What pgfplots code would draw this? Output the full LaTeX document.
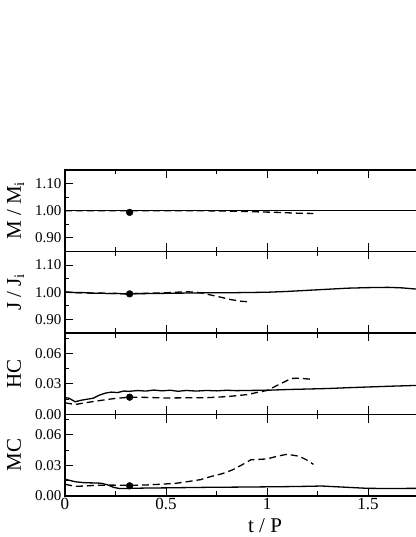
\documentclass[border=0pt]{standalone}
\usepackage{fontspec}
\setmainfont{Liberation Serif}
\usepackage{pgfplots}
\pgfplotsset{compat=1.18}
\pgfplotsset{
  panel/.style={
    scale only axis, width=353.5pt, height=81.5pt,
    xmin=0, xmax=1.75,
    axis line style={line width=1.6pt},
    every tick/.style={black, line width=0.9pt},
    major tick length=8pt, minor tick length=4.5pt,
    tick align=inside,
    xtick={0,0.5,1,1.5}, minor xtick={0.25,0.75,1.25,1.75},
    xticklabels={},
    ytick pos=left,
    /pgf/number format/assume math mode=true,
    yticklabel style={font=\fontsize{15}{15}\selectfont, /pgf/number format/.cd, fixed, fixed zerofill, precision=2},
    scaled y ticks=false,
    every axis y label/.style={at={(axis description cs:-0.1245,0.5)}, rotate=90, anchor=base, font=\fontsize{21}{25}\selectfont},
    solidl/.style={black, line width=1.3pt, no markers},
    dashl/.style={black, line width=1.3pt, no markers, dash pattern=on 7pt off 4pt},
    dotm/.style={only marks, mark=*, mark size=3.4pt, black},
  },
  mj/.style={ymin=0.85, ymax=1.15, ytick={0.9,1.0,1.1}, minor ytick={0.85,0.95,1.05,1.15}},
  hm/.style={ymin=0, ymax=0.08, ytick={0,0.03,0.06}, minor ytick={0.015,0.045,0.075}},
}
\begin{document}
\begin{tikzpicture}
% Panel 1: M / M_i
\begin{axis}[panel, mj, at={(0,244.5pt)}, ylabel={M / M\textsubscript{i}}]
\addplot[solidl] coordinates {(0,1.0) (1.75,1.0)};
\addplot[dashl] coordinates {(0,1.0) (0.3,1.0) (0.6,1.0) (0.75,0.9995) (0.85,0.998) (0.95,0.996) (1.05,0.994) (1.15,0.991) (1.23,0.990)};
\addplot[dotm] coordinates {(0.32,0.994)};
\end{axis}
% Panel 2: J / J_i
\begin{axis}[panel, mj, at={(0,163pt)}, ylabel={J / J\textsubscript{i}}]
\addplot[solidl] coordinates {(0,1.001) (0.03,1.0) (0.06,0.998) (0.09,0.999) (0.12,0.997) (0.15,0.996) (0.18,0.997) (0.21,0.995) (0.25,0.996) (0.3,0.994) (0.35,0.995) (0.4,0.995) (0.5,0.996) (0.6,0.997) (0.7,0.998) (0.8,0.998) (0.9,0.999) (1.0,1.0) (1.1,1.003) (1.2,1.007) (1.3,1.011) (1.4,1.015) (1.5,1.017) (1.6,1.018) (1.67,1.016) (1.75,1.011)};
\addplot[dashl] coordinates {(0,1.0) (0.1,0.998) (0.2,0.996) (0.3,0.994) (0.4,0.996) (0.5,0.998) (0.55,1.0) (0.6,1.002) (0.65,1.0) (0.68,0.997) (0.72,0.99) (0.77,0.982) (0.82,0.973) (0.87,0.967) (0.92,0.964)};
\addplot[dotm] coordinates {(0.32,0.994)};
\end{axis}
% Panel 3: HC
\begin{axis}[panel, hm, at={(0,81.5pt)}, ylabel={HC}]
\addplot[solidl] coordinates {(0,0.0165) (0.02,0.016) (0.05,0.0125) (0.08,0.014) (0.11,0.015) (0.14,0.016) (0.17,0.019) (0.2,0.021) (0.23,0.022) (0.26,0.0215) (0.29,0.023) (0.32,0.0228) (0.36,0.0235) (0.4,0.023) (0.44,0.024) (0.48,0.0232) (0.52,0.0238) (0.56,0.0228) (0.6,0.0236) (0.65,0.023) (0.7,0.0236) (0.75,0.0232) (0.8,0.0238) (0.85,0.0234) (0.9,0.0236) (1.0,0.0238) (1.1,0.0245) (1.2,0.025) (1.3,0.0255) (1.4,0.0263) (1.5,0.027) (1.6,0.0277) (1.75,0.0286)};
\addplot[dashl] coordinates {(0,0.0115) (0.05,0.0098) (0.1,0.0115) (0.15,0.013) (0.2,0.0145) (0.25,0.0158) (0.32,0.017) (0.4,0.0168) (0.5,0.0162) (0.6,0.0164) (0.7,0.0165) (0.8,0.0175) (0.9,0.0195) (1.0,0.0236) (1.06,0.0295) (1.12,0.0354) (1.16,0.0356) (1.23,0.0344)};
\addplot[dotm] coordinates {(0.32,0.017)};
\end{axis}
% Panel 4: MC
\begin{axis}[panel, hm, at={(0,0pt)}, ylabel={MC},
  xticklabels={0,0.5,1,1.5},
  xticklabel style={font=\fontsize{17}{17}\selectfont, anchor=north, inner sep=0pt, yshift=-2pt},
  xlabel={t / P},
  every axis x label/.style={at={(axis description cs:0.566,-0.454)}, anchor=base, font=\fontsize{21}{25}\selectfont}]
\addplot[solidl] coordinates {(0,0.0165) (0.05,0.014) (0.1,0.013) (0.15,0.0128) (0.18,0.0125) (0.21,0.011) (0.24,0.0085) (0.27,0.0073) (0.32,0.0075) (0.4,0.0078) (0.5,0.008) (0.7,0.0085) (0.9,0.0088) (1.0,0.009) (1.1,0.0092) (1.2,0.0095) (1.27,0.0098) (1.35,0.009) (1.45,0.008) (1.5,0.0075) (1.6,0.0074) (1.75,0.0075)};
\addplot[dashl] coordinates {(0,0.0115) (0.05,0.0095) (0.1,0.0098) (0.15,0.0105) (0.22,0.0107) (0.32,0.0105) (0.4,0.0108) (0.47,0.0115) (0.55,0.0125) (0.62,0.0145) (0.67,0.016) (0.72,0.019) (0.78,0.022) (0.83,0.0257) (0.88,0.031) (0.92,0.0355) (1.0,0.0364) (1.05,0.039) (1.1,0.041) (1.16,0.039) (1.2,0.035) (1.23,0.031)};
\addplot[dotm] coordinates {(0.32,0.010)};
\end{axis}
\pgfresetboundingbox
\path[use as bounding box] (-65pt,-41pt) rectangle (350pt,496pt);
\end{tikzpicture}
\end{document}
